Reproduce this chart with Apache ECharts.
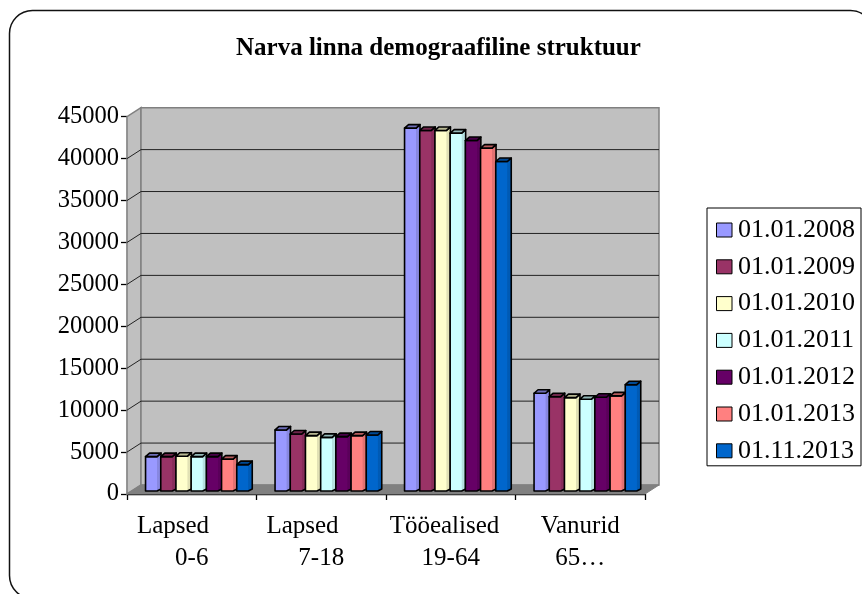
<!DOCTYPE html>
<html>
<head>
<meta charset="utf-8">
<style>
html, body { margin: 0; padding: 0; background: #fff; }
#chart { width: 862px; height: 594px; }
</style>
<script src="https://cdn.jsdelivr.net/npm/echarts@6/dist/echarts.min.js"></script>
</head>
<body>
<div id="chart"></div>
<script>
// nbsp at the end of a first line pushes it left of the second one, as in the original
const categories = [
  'Lapsed\u00a0\u00a0\u00a0\u00a0\u00a0\u00a0\n0-6',
  'Lapsed\u00a0\u00a0\u00a0\u00a0\u00a0\u00a0\n7-18',
  'Tööealised\u00a0\u00a0\n19-64',
  'Vanurid\n65…'
];
const dates = ['01.01.2008', '01.01.2009', '01.01.2010', '01.01.2011', '01.01.2012', '01.01.2013', '01.11.2013'];
const colors = ['#9999FF', '#993366', '#FFFFCC', '#CCFFFF', '#660066', '#FF8080', '#0066CC'];

const values2008 = [4100, 7280, 43280, 11660];
const values2009 = [4100, 6800, 43000, 11250];
const values2010 = [4150, 6600, 43000, 11140];
const values2011 = [4100, 6400, 42680, 10940];
const values2012 = [4100, 6480, 41800, 11180];
const values2013 = [3800, 6600, 40900, 11340];
const valuesNov2013 = [3150, 6680, 39300, 12680];
const allValues = [values2008, values2009, values2010, values2011, values2012, values2013, valuesNov2013];

const yTicks = [0, 5000, 10000, 15000, 20000, 25000, 30000, 35000, 40000, 45000];

const SERIF = '"Liberation Serif", "Times New Roman", serif';
const WALL_DX = 14, WALL_DY = 9; // depth of the fake 3d box
const BAR_PITCH = 15.2, BAR_FRONT = 11.5, BAR_DX = 4, BAR_DY = 3.5;

function shade(hex, k) {
  const n = parseInt(hex.slice(1), 16);
  const c = [n >> 16, (n >> 8) & 255, n & 255].map(v => Math.round(v * k));
  return `rgb(${c[0]},${c[1]},${c[2]})`;
}

function renderWalls(params, api) {
  const box = params.coordSys;
  const y = api.coord([0, api.value(1)])[1];
  const x0 = box.x, x1 = box.x + box.width;
  const children = [];
  if (params.dataIndex === 0) {
    const bottom = box.y + box.height, top = box.y;
    children.push({
      type: 'polygon',
      shape: { points: [[x0, bottom], [x0, top], [x0 + WALL_DX, top - WALL_DY], [x0 + WALL_DX, bottom - WALL_DY]] },
      style: { fill: '#C0C0C0', stroke: '#808080', lineWidth: 1.5 }
    }, {
      type: 'polygon',
      shape: { points: [[x0 + WALL_DX, bottom - WALL_DY], [x0 + WALL_DX, top - WALL_DY], [x1 + WALL_DX, top - WALL_DY], [x1 + WALL_DX, bottom - WALL_DY]] },
      style: { fill: '#C0C0C0', stroke: '#808080', lineWidth: 1.5 }
    }, {
      type: 'polygon',
      shape: { points: [[x0, bottom], [x0 + WALL_DX, bottom - WALL_DY], [x1 + WALL_DX, bottom - WALL_DY], [x1, bottom]] },
      style: { fill: '#808080', stroke: '#808080', lineWidth: 1 }
    });
  } else if (api.value(1) < yTicks[yTicks.length - 1]) {
    children.push({
      type: 'polyline',
      shape: { points: [[x0, y], [x0 + WALL_DX, y - WALL_DY], [x1 + WALL_DX, y - WALL_DY]] },
      style: { fill: 'none', stroke: '#222', lineWidth: 1 }
    });
  }
  return { type: 'group', children };
}

function makeRenderBar(index, color) {
  const bodyFill = new echarts.graphic.LinearGradient(0, 0, 1, 0, [
    { offset: 0, color },
    { offset: 0.7, color },
    { offset: 0.74, color: shade(color, 0.88) },
    { offset: 1, color: shade(color, 0.9) }
  ]);
  return function (params, api) {
    const top = api.coord([api.value(0), api.value(1)]);
    const base = api.coord([api.value(0), 0]);
    const x = top[0] + (index - 3.5) * BAR_PITCH + 7;
    const yt = top[1] - 3, yb = base[1] - 3;
    const right = x + BAR_FRONT;
    const edge = { stroke: '#000', lineWidth: 1.6, lineJoin: 'round' };
    return {
      type: 'group',
      children: [
        {
          type: 'polygon',
          shape: { points: [[x, yb], [x, yt], [right, yt], [right + BAR_DX, yt - BAR_DY], [right + BAR_DX, yb - 2], [right, yb]] },
          style: { fill: bodyFill, ...edge }
        },
        {
          type: 'polygon',
          shape: { points: [[x, yt], [x + BAR_DX, yt - BAR_DY], [right + BAR_DX, yt - BAR_DY], [right, yt]] },
          style: { fill: shade(color, 0.72), ...edge }
        }
      ]
    };
  };
}

const barSeries = dates.map((name, i) => ({
  name,
  type: 'custom',
  z: 3 + i,
  itemStyle: { color: colors[i] },
  renderItem: makeRenderBar(i, colors[i]),
  encode: { x: 0, y: 1 },
  data: allValues[i].map((v, c) => [c, v])
}));

const chart = echarts.init(document.getElementById('chart'), null, { renderer: 'canvas' });
chart.setOption({
  animation: false,
  backgroundColor: '#fff',
  graphic: [{
    type: 'rect',
    z: -10,
    shape: { x: 9.5, y: 10.5, width: 864, height: 588, r: 23 },
    style: { fill: '#fff', stroke: '#111', lineWidth: 1.5 }
  }],
  title: {
    text: 'Narva linna demograafiline struktuur',
    left: 236,
    top: 36,
    padding: 0,
    textStyle: { fontFamily: SERIF, fontSize: 25, fontWeight: 'bold', color: '#000' }
  },
  grid: { left: 127, right: 217, top: 116.7, bottom: 100 },
  legend: {
    orient: 'vertical',
    left: 707,
    top: 208,
    padding: [9, 6, 2, 9],
    icon: 'rect',
    itemWidth: 15.5,
    itemHeight: 14,
    itemGap: 10.8,
    borderColor: '#000',
    borderWidth: 1,
    backgroundColor: '#fff',
    data: dates,
    itemStyle: { borderColor: '#000', borderWidth: 1 },
    textStyle: { fontFamily: SERIF, fontSize: 26, color: '#000', padding: [0, 0, 0, 1] }
  },
  xAxis: {
    type: 'category',
    data: categories,
    axisLine: { lineStyle: { color: '#000', width: 1.3 } },
    axisTick: { show: true, length: 6, alignWithLabel: false, lineStyle: { color: '#000', width: 1.3 } },
    axisLabel: { interval: 0, margin: 16, fontFamily: SERIF, fontSize: 25, color: '#000', lineHeight: 32 },
    splitLine: { show: false }
  },
  yAxis: {
    type: 'value',
    min: 0,
    max: 45000,
    interval: 5000,
    axisLine: { show: true, lineStyle: { color: '#000', width: 1.3 } },
    axisTick: { show: true, length: 6, lineStyle: { color: '#000', width: 1.3 } },
    axisLabel: { margin: 8, fontFamily: SERIF, fontSize: 24.5, color: '#000', formatter: v => String(v) },
    splitLine: { show: false }
  },
  series: [{
    type: 'custom',
    z: 1,
    silent: true,
    renderItem: renderWalls,
    encode: { x: 0, y: 1 },
    data: yTicks.map(v => [0, v])
  }].concat(barSeries)
});
</script>
</body>
</html>
